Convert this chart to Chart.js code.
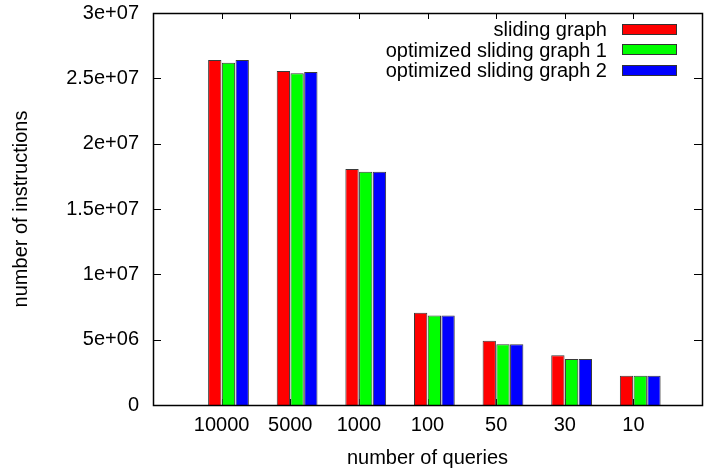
<!DOCTYPE html>
<html>
<head>
<meta charset="utf-8">
<script src="https://cdn.jsdelivr.net/npm/chart.js@4/dist/chart.umd.min.js"></script>
<style>
  html, body { margin: 0; padding: 0; background: #fff; }
  #wrap { position: relative; width: 713px; height: 470px; }
  #legend { position: absolute; right: 36px; top: 19px; font-family: "Liberation Sans", Arial, sans-serif; font-size: 20px; color: #000; }
  #legend .row { display: flex; align-items: center; justify-content: flex-end; height: 20.5px; line-height: 20.5px; }
  #legend .sw { display: inline-block; width: 53px; height: 9px; margin-left: 15px; border: 1px solid #333; }
</style>
</head>
<body>
<div id="wrap">
  <canvas id="c" width="713" height="470"></canvas>
  <div id="legend"></div>
</div>
<script>
// ---- data ----
const categories = ['10000', '5000', '1000', '100', '50', '30', '10'];
const slidingGraph = [26.4e6, 25.56e6, 18.06e6, 7.06e6, 4.92e6, 3.80e6, 2.24e6];
const optimized1   = [26.2e6, 25.38e6, 17.86e6, 6.84e6, 4.64e6, 3.52e6, 2.24e6];
const optimized2   = [26.4e6, 25.48e6, 17.86e6, 6.84e6, 4.64e6, 3.52e6, 2.24e6];
const seriesNames  = ['sliding graph', 'optimized sliding graph 1', 'optimized sliding graph 2'];
const seriesColors = ['#ff0000', '#00ff00', '#0000ff'];
const yTicks = [0, 5e6, 1e7, 1.5e7, 2e7, 2.5e7, 3e7];

// empty slot before first and after last category (gnuplot-like x range)
const labels = [''].concat(categories, ['']);
const pad = arr => [null].concat(arr, [null]);

function gnuExp(v) {
  if (v === 0) return '0';
  const s = v.toExponential(); // e.g. 1.5e+7
  const m = s.match(/^([\d.]+)e([+-])(\d+)$/);
  if (!m) return s;
  return m[1] + 'e' + m[2] + (m[3].length < 2 ? '0' + m[3] : m[3]);
}

const FONT = { family: '"Liberation Sans", Arial, sans-serif', size: 20 };

const datasets = [
  // spacer slot (gnuplot's cluster gap) - no data
  { label: '__gap', data: pad(categories.map(() => null)), backgroundColor: 'rgba(0,0,0,0)', borderWidth: 0 }
].concat(seriesNames.map((name, i) => ({
  label: name,
  data: pad([slidingGraph, optimized1, optimized2][i]),
  backgroundColor: seriesColors[i],
  borderColor: '#3a3a3a',
  borderWidth: 1,
  borderSkipped: 'bottom'
})));

const frameAndTicks = {
  id: 'frameAndTicks',
  beforeDatasetsDraw(chart) {
    const { ctx, chartArea: a, scales } = chart;
    ctx.save();
    ctx.strokeStyle = '#000';
    ctx.lineWidth = 1;
    ctx.beginPath();
    // y ticks, inward on left and right
    yTicks.forEach(v => {
      const y = Math.round(scales.y.getPixelForValue(v)) + 0.5;
      ctx.moveTo(a.left, y); ctx.lineTo(a.left + 8, y);
      ctx.moveTo(a.right, y); ctx.lineTo(a.right - 8, y);
    });
    // x ticks, inward at top and bottom
    labels.forEach((lab, i) => {
      if (!lab) return;
      const x = Math.round(scales.x.getPixelForValue(i)) + 0.5;
      ctx.moveTo(x, a.bottom); ctx.lineTo(x, a.bottom - 6);
      ctx.moveTo(x, a.top); ctx.lineTo(x, a.top + 6);
    });
    ctx.stroke();
    ctx.restore();
  },
  afterDatasetsDraw(chart) {
    const { ctx, chartArea: a } = chart;
    ctx.save();
    ctx.strokeStyle = '#000';
    ctx.lineWidth = 1.5;
    ctx.strokeRect(Math.round(a.left) + 0.5, Math.round(a.top) + 0.5,
                   Math.round(a.right - a.left), Math.round(a.bottom - a.top));
    ctx.restore();
  }
};

const chart = new Chart(document.getElementById('c'), {
  type: 'bar',
  data: { labels, datasets },
  options: {
    responsive: false,
    animation: false,
    devicePixelRatio: 1,
    layout: { padding: { top: 13, right: 11, left: 0, bottom: 0 } },
    datasets: { bar: { categoryPercentage: 0.8, barPercentage: 0.97 } },
    plugins: { legend: { display: false }, tooltip: { enabled: false } },
    scales: {
      x: {
        offset: false,
        grid: { display: false, drawTicks: false },
        border: { display: false },
        ticks: { color: '#000', font: FONT, padding: 8, maxRotation: 0, autoSkip: false },
        title: { display: true, text: 'number of queries', color: '#000', font: FONT, padding: { top: 4, bottom: 0 } },
        afterFit(s) { s.height = 65; s.paddingLeft = 0; s.paddingRight = 0; }
      },
      y: {
        min: 0, max: 3e7,
        grid: { display: false, drawTicks: false },
        border: { display: false },
        afterBuildTicks(s) { s.ticks = yTicks.map(v => ({ value: v })); },
        ticks: { color: '#000', font: FONT, padding: 14, callback: v => gnuExp(v) },
        title: { display: true, text: 'number of instructions', color: '#000', font: FONT, padding: { top: 9, bottom: 0 } },
        afterFit(s) { s.width = 153; s.paddingTop = 0; s.paddingBottom = 0; }
      }
    }
  },
  plugins: [frameAndTicks]
});

// HTML legend built from datasets
const legend = document.getElementById('legend');
chart.data.datasets.filter(d => d.label !== '__gap').forEach(d => {
  const row = document.createElement('div');
  row.className = 'row';
  const t = document.createElement('span');
  t.textContent = d.label;
  const sw = document.createElement('span');
  sw.className = 'sw';
  sw.style.background = d.backgroundColor;
  row.appendChild(t); row.appendChild(sw);
  legend.appendChild(row);
});
</script>
</body>
</html>
